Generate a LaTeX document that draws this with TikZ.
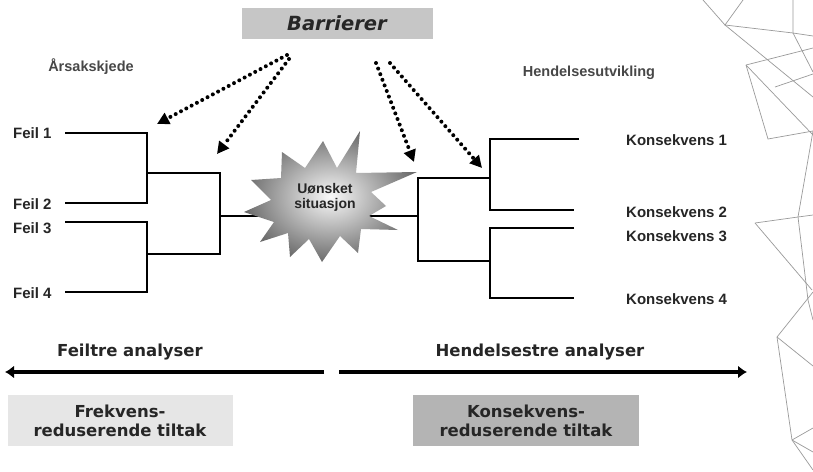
\documentclass[tikz,border=0pt]{standalone}
\usepackage{fontspec}
\setmainfont{Liberation Sans}
\newfontfamily\dejavu{DejaVu Sans}
\usetikzlibrary{arrows.meta}
\definecolor{barfill}{HTML}{C6C6C6}
\definecolor{leftfill}{HTML}{E6E6E6}
\definecolor{rightfill}{HTML}{B4B4B4}
\definecolor{txtdark}{HTML}{262626}
\definecolor{wire}{HTML}{9A9A9A}
\begin{document}
\begin{tikzpicture}[x=1pt,y=-1pt,
  tree/.style={line width=2.2pt,line join=miter},
  lab/.style={font=\bfseries\fontsize{15}{17}\selectfont,text=txtdark,inner sep=0pt},
  head/.style={font=\bfseries\fontsize{14.5}{17}\selectfont,text=txtdark!85,inner sep=0pt},
  dotarrow/.style={line width=4pt,line cap=round,dash pattern=on 0pt off 6pt,
    -{Triangle[length=12pt,width=12pt]}},
  bigarrow/.style={line width=4.5pt,-{Latex[length=9pt,width=13pt]}},
  bigtext/.style={font=\dejavu\bfseries\fontsize{16.5}{19}\selectfont,text=txtdark,inner sep=0pt,align=center},
  wireline/.style={draw=wire,line width=0.7pt}]
\useasboundingbox (0,0) rectangle (813,471);
\fill[white] (0,0) rectangle (813,471);

% decorative wireframe on the right
\draw[wireline] (743,0) -- (725,25) -- (793,33) -- (813,36);
\draw[wireline] (703,0) -- (725,25) -- (813,97);
\draw[wireline] (793,0) -- (793,33) -- (813,72);
\draw[wireline] (746,65) -- (813,48);
\draw[wireline] (746,65) -- (768,139) -- (813,131);
\draw[wireline] (746,65) -- (813,135);
\draw[wireline] (775,87) -- (813,74);
\draw[wireline] (813,131) -- (798,217);
\draw[wireline] (755,223) -- (798,217) -- (813,215);
\draw[wireline] (755,223) -- (812,290);
\draw[wireline] (798,217) -- (808,300) -- (813,320);
\draw[wireline] (777,337) -- (813,292);
\draw[wireline] (777,337) -- (792,440) -- (813,470);
\draw[wireline] (777,337) -- (813,366);
\draw[wireline] (792,440) -- (813,428);
\draw[wireline] (792,440) -- (813,452);

% Barrierer
\node[fill=barfill,minimum width=191pt,minimum height=31pt,inner sep=0pt,
  font=\dejavu\bfseries\itshape\fontsize{19.5}{22}\selectfont,text=txtdark] (bar) at (337,23.5) {Barrierer};

% headings
\node[head] (aars) at (91,67) {Årsakskjede};
\node[head] (hend) at (589,73) {Hendelsesutvikling};

% left labels
\node[lab,anchor=west] (f1) at (13,133) {Feil 1};
\node[lab,anchor=west] (f2) at (13,204) {Feil 2};
\node[lab,anchor=west] (f3) at (13,228) {Feil 3};
\node[lab,anchor=west] (f4) at (13,293) {Feil 4};

% right labels
\node[lab,anchor=west] (kk1) at (626,140) {Konsekvens 1};
\node[lab,anchor=west] (kk2) at (626,212) {Konsekvens 2};
\node[lab,anchor=west] (kk3) at (626,236) {Konsekvens 3};
\node[lab,anchor=west] (kk4) at (626,299) {Konsekvens 4};

% tree coordinates
\coordinate (a1) at (65,133);
\coordinate (a2) at (65,203);
\coordinate (a3) at (65,222);
\coordinate (a4) at (65,292);
\coordinate (b1) at (147,173);
\coordinate (b2) at (147,254);
\coordinate (c1) at (220,216);
\coordinate (sc) at (318,216);
\coordinate (d) at (418,216);
\coordinate (e1) at (490,178);
\coordinate (e2) at (490,261);
\coordinate (k1) at (579,139);
\coordinate (k2) at (574,210);
\coordinate (k3) at (574,228);
\coordinate (k4) at (574,298);

\draw[tree] (a1) -| (b1) |- (a2);
\draw[tree] (a3) -| (b2) |- (a4);
\draw[tree] (b1) -| (c1) |- (b2);
\draw[tree] (c1) -- (sc) -- (d);
\draw[tree] (e1) -| (d) |- (e2);
\draw[tree] (k1) -| (e1) |- (k2);
\draw[tree] (k3) -| (e2) |- (k4);

% star
\shade[inner color=gray!5,outer color=gray!85!black]
  (323,141) -- (337,168) -- (360,131) -- (356,173) -- (417,172) -- (371,192)
  -- (386,206) -- (369,216) -- (398,230) -- (361,229) -- (358,253) -- (340,236)
  -- (322,262) -- (309,239) -- (290,257) -- (288,233) -- (260,242) -- (274,222)
  -- (244,212) -- (271,200) -- (251,180) -- (281,178) -- (282,152) -- (305,168) -- cycle;
\node[font=\bfseries\fontsize{14}{15}\selectfont,text=txtdark,align=center,inner sep=0pt] (star) at (325,197) {Uønsket\\situasjon};

% dotted arrows from barriers
\coordinate (s1) at (287,55);
\coordinate (s2) at (289,59);
\coordinate (s3) at (376,63);
\coordinate (s4) at (390,63);
\coordinate (t1) at (157,124);
\coordinate (t2) at (217,154);
\coordinate (t3) at (414,162);
\coordinate (t4) at (482,168);
\draw[dotarrow] (s1) -- (t1);
\draw[dotarrow] (s2) -- (t2);
\draw[dotarrow] (s3) -- (t3);
\draw[dotarrow] (s4) -- (t4);

% bottom
\node[bigtext] (ft) at (130,352) {Feiltre analyser};
\node[bigtext] (ht) at (540,352) {Hendelsestre analyser};
\coordinate (lstart) at (324,372);
\coordinate (lend) at (5,372);
\coordinate (rstart) at (339,372);
\coordinate (rend) at (747,372);
\draw[bigarrow] (lstart) -- (lend);
\draw[bigarrow] (rstart) -- (rend);

\node[bigtext,fill=leftfill,minimum width=225pt,minimum height=51pt] (fr) at (120,420.5) {Frekvens-\\reduserende tiltak};
\node[bigtext,fill=rightfill,minimum width=226pt,minimum height=51pt] (kr) at (526,420.5) {Konsekvens-\\reduserende tiltak};
\end{tikzpicture}
\end{document}
